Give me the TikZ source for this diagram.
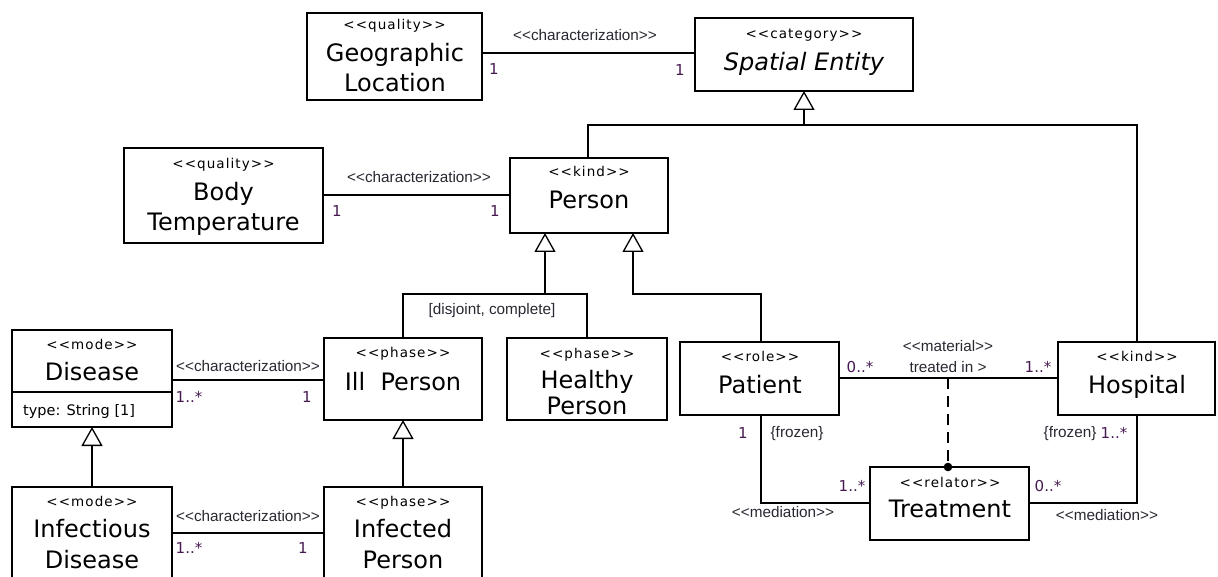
\documentclass[tikz,border=0pt]{standalone}
\usepackage{fontspec}
\setmainfont{DejaVu Sans}
\newfontfamily\dvsans{DejaVu Sans}
\newfontfamily\dvster{DejaVu Sans}[LetterSpace=8]
\newfontfamily\lblfont{Liberation Sans}
\usetikzlibrary{arrows.meta}
\definecolor{multc}{RGB}{70,25,80}
\definecolor{lblc}{RGB}{40,40,50}

\begin{document}
\begin{tikzpicture}[x=1pt,y=-1pt,
  box/.style={draw, line width=2.9pt, fill=white, inner sep=0pt, outer sep=0pt},
  conn/.style={draw, line width=2.9pt},
  gen/.style={conn, -{Triangle[open, length=19pt, width=21pt, line width=1.3pt]}},
  stereo/.style={font=\dvster\fontsize{13.5}{15}\selectfont, inner sep=0pt, text height=7.4pt, text depth=0pt},
  cname/.style={font=\dvsans\fontsize{24}{28}\selectfont, inner sep=0pt, text height=17.5pt, text depth=0pt},
  attr/.style={font=\dvsans\fontsize{14.5}{17}\selectfont, inner sep=0pt, text height=10.6pt, text depth=0pt},
  mult/.style={font=\dvsans\fontsize{15}{17}\selectfont, text=multc, inner sep=0pt, text height=10.9pt, text depth=0pt},
  lbl/.style={font=\lblfont\fontsize{15.3}{17}\selectfont, text=lblc, inner sep=0pt, text height=9.2pt, text depth=0pt}
]
\useasboundingbox (0,0) rectangle (1218,577);
\clip (0,0) rectangle (1218,577);

% class boxes
\node[box, minimum width=175pt, minimum height=87pt] (geo) at (394.5,56.5) {};
\node[box, minimum width=218pt, minimum height=73pt] (spatial) at (804,54.5) {};
\node[box, minimum width=199pt, minimum height=95pt] (body) at (223.5,195.5) {};
\node[box, minimum width=158pt, minimum height=75pt] (person) at (589,195.5) {};
\node[box, minimum width=160pt, minimum height=97pt] (disease) at (92,378.5) {};
\node[box, minimum width=158pt, minimum height=82pt] (ill) at (403,379) {};
\node[box, minimum width=160pt, minimum height=82pt] (healthy) at (587,379) {};
\node[box, minimum width=159pt, minimum height=73pt] (patient) at (759.5,378.5) {};
\node[box, minimum width=157pt, minimum height=73pt] (hospital) at (1136.5,378.5) {};
\node[box, minimum width=159pt, minimum height=73pt] (treatment) at (949.5,503.5) {};
\node[box, minimum width=160pt, minimum height=133pt] (infdis) at (92,553.5) {};
\node[box, minimum width=158pt, minimum height=133pt] (infper) at (403,553.5) {};

% attribute compartment of Disease
\coordinate (dsep) at (0,392);
\draw[conn] (disease.west |- dsep) -- (disease.east |- dsep);

% routing points
\coordinate (hL) at (588,125);
\coordinate (hR) at (1137,125);
\coordinate (g1) at (804,125);
\coordinate (p1) at (545,294);
\coordinate (p2) at (633,294);
\coordinate (s1) at (403,294);
\coordinate (s2) at (587,294);
\coordinate (s3) at (761,294);
\coordinate (a1) at (0,53);
\coordinate (a2) at (0,195);
\coordinate (a3) at (0,380);
\coordinate (a4) at (0,533);
\coordinate (a5) at (0,378);
\coordinate (m) at (0,503);
\coordinate (mat) at (948,378);

% generalizations
\draw[conn] (hL |- person.north) -- (hL) -- (hR) -- (hR |- hospital.north);
\draw[gen] (g1) -- (g1 |- spatial.south);
\draw[conn] (s1 |- ill.north) -- (s1) -- (s2) -- (s2 |- healthy.north);
\draw[gen] (p1) -- (p1 |- person.south);
\draw[gen] (s3 |- patient.north) -- (s3) -- (p2) -- (p2 |- person.south);
\draw[gen] (infdis.north) -- (disease.south);
\draw[gen] (infper.north) -- (ill.south);

% associations
\draw[conn] (geo.east |- a1) -- (spatial.west |- a1);
\draw[conn] (body.east |- a2) -- (person.west |- a2);
\draw[conn] (disease.east |- a3) -- (ill.west |- a3);
\draw[conn] (infdis.east |- a4) -- (infper.west |- a4);
\draw[conn] (patient.east |- a5) -- (hospital.west |- a5);
\draw[conn] (s3 |- patient.south) -- (s3 |- m) -- (treatment.west |- m);
\draw[conn] (hR |- hospital.south) -- (hR |- m) -- (treatment.east |- m);
\draw[conn, dash pattern=on 11pt off 7pt] (mat) -- (mat |- treatment.north);
\fill (mat |- treatment.north) circle (4.3pt);

% class texts
\node[stereo] (geo-s) at (394.5,26) {<<quality>>};
\node[cname] (geo-n1) at (395,53) {Geographic};
\node[cname] (geo-n2) at (395,83) {Location};
\node[stereo] (spatial-s) at (804,35) {<<category>>};
\node[cname, font=\dvsans\fontsize{24}{28}\selectfont\itshape] (spatial-n) at (804,62) {Spatial Entity};
\node[stereo] (body-s) at (223.5,165) {<<quality>>};
\node[cname] (body-n1) at (223.5,192) {Body};
\node[cname] (body-n2) at (223.5,222) {Temperature};
\node[stereo] (person-s) at (589,173) {<<kind>>};
\node[cname] (person-n) at (589,200) {Person};
\node[stereo] (disease-s) at (92,346) {<<mode>>};
\node[cname] (disease-n) at (92,372) {Disease};
\node[attr, anchor=west] (disease-a) at (23,410) {type: String [1]};
\node[stereo] (ill-s) at (403,354) {<<phase>>};
\node[cname] (ill-n) at (403,382) {Ill\ \ Person};
\node[stereo] (healthy-s) at (587,355) {<<phase>>};
\node[cname] (healthy-n1) at (587,380) {Healthy};
\node[cname] (healthy-n2) at (587,406) {Person};
\node[stereo] (patient-s) at (760,358) {<<role>>};
\node[cname] (patient-n) at (760,385) {Patient};
\node[stereo] (hospital-s) at (1137,358) {<<kind>>};
\node[cname] (hospital-n) at (1137,385) {Hospital};
\node[stereo] (treatment-s) at (950,484) {<<relator>>};
\node[cname] (treatment-n) at (950,509) {Treatment};
\node[stereo] (infdis-s) at (92,503) {<<mode>>};
\node[cname] (infdis-n1) at (92,529) {Infectious};
\node[cname] (infdis-n2) at (92,560) {Disease};
\node[stereo] (infper-s) at (403,503) {<<phase>>};
\node[cname] (infper-n1) at (403,529) {Infected};
\node[cname] (infper-n2) at (403,560) {Person};

% connector labels
\node[lbl] (l1) at (585,36) {<<characterization>>};
\node[mult] (l1a) at (494,69) {1};
\node[mult] (l1b) at (680,70) {1};
\node[lbl] (l2) at (419,178) {<<characterization>>};
\node[mult] (l2a) at (337,211) {1};
\node[mult] (l2b) at (495,211) {1};
\node[lbl] (l3) at (248,367) {<<characterization>>};
\node[mult] (l3a) at (189,397) {1..*};
\node[mult] (l3b) at (307,397) {1};
\node[lbl] (l4) at (248,517) {<<characterization>>};
\node[mult] (l4a) at (189,548) {1..*};
\node[mult] (l4b) at (303,548) {1};
\node[lbl] (gs) at (492,310) {[disjoint, complete]};
\node[lbl] (l5) at (948,347) {<<material>>};
\node[lbl] (l5n) at (948,368) {treated in >};
\node[mult] (l5a) at (860,367) {0..*};
\node[mult] (l5b) at (1038,367) {1..*};
\node[mult] (l6a) at (743,433) {1};
\node[lbl] (l6f) at (797,433) {\{frozen\}};
\node[mult] (l6b) at (852,486) {1..*};
\node[lbl] (l6) at (783,513) {<<mediation>>};
\node[lbl] (l7f) at (1070,433) {\{frozen\}};
\node[mult] (l7a) at (1114,433) {1..*};
\node[mult] (l7b) at (1048,486) {0..*};
\node[lbl] (l7) at (1107,516) {<<mediation>>};
\end{tikzpicture}
\end{document}
